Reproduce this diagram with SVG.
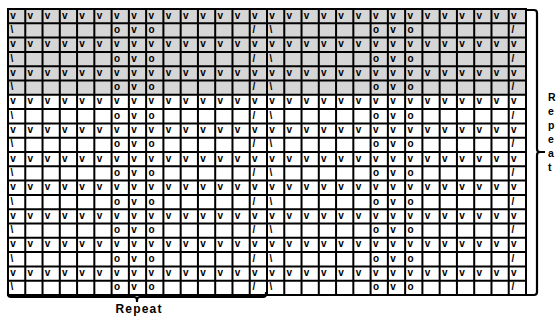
<svg xmlns="http://www.w3.org/2000/svg" xmlns:xlink="http://www.w3.org/1999/xlink" width="557" height="320" viewBox="0 0 557 320">
<style>
.sym{font-family:"Liberation Sans",Arial,sans-serif;font-weight:bold;font-size:10px;fill:#000}
.lbl{font-family:"Liberation Sans",Arial,sans-serif;font-weight:bold;font-size:12px;fill:#000}
.vlbl{font-family:"Liberation Sans",Arial,sans-serif;font-weight:bold;font-size:10.5px;fill:#000}
.grid{fill:none;stroke:#000;stroke-width:2}
.brace{fill:none;stroke:#000;stroke-width:2.2;stroke-linejoin:round}
</style>
<defs>
<text id="vrow" class="sym" x="10.3 27.57 44.83 62.1 79.37 96.63 113.9 131.17 148.43 165.7 182.97 200.23 217.5 234.77 252.03 269.3 286.57 303.83 321.1 338.37 355.63 372.9 390.17 407.43 424.7 441.97 459.23 476.5 493.77 511.03" y="0">vvvvvvvvvvvvvvvvvvvvvvvvvvvvvv</text>
<text id="orow" class="sym" x="10.6 113.9 131.17 148.43 252.5 269.6 372.9 390.17 407.43 511.5" y="0">\ovo/\ovo/</text>
</defs>
<g id="background">
<rect x="8" y="9" width="518" height="85.8" fill="#d6d6d6"/>
<rect x="8" y="94.8" width="518" height="200.2" fill="#ffffff"/>
</g>
<g id="symbols">
<use xlink:href="#vrow" y="18.6"/>
<use xlink:href="#orow" y="32.9"/>
<use xlink:href="#vrow" y="47.2"/>
<use xlink:href="#orow" y="61.5"/>
<use xlink:href="#vrow" y="75.8"/>
<use xlink:href="#orow" y="90.1"/>
<use xlink:href="#vrow" y="104.4"/>
<use xlink:href="#orow" y="118.7"/>
<use xlink:href="#vrow" y="133"/>
<use xlink:href="#orow" y="147.3"/>
<use xlink:href="#vrow" y="161.6"/>
<use xlink:href="#orow" y="175.9"/>
<use xlink:href="#vrow" y="190.2"/>
<use xlink:href="#orow" y="204.5"/>
<use xlink:href="#vrow" y="218.8"/>
<use xlink:href="#orow" y="233.1"/>
<use xlink:href="#vrow" y="247.4"/>
<use xlink:href="#orow" y="261.7"/>
<use xlink:href="#vrow" y="276"/>
<use xlink:href="#orow" y="290.3"/>
</g>
<g id="gridlines">
<path class="grid" d="M8 9V295M25.27 9V295M42.53 9V295M59.8 9V295M77.07 9V295M94.33 9V295M111.6 9V295M128.87 9V295M146.13 9V295M163.4 9V295M180.67 9V295M197.93 9V295M215.2 9V295M232.47 9V295M249.73 9V295M267 9V295M284.27 9V295M301.53 9V295M318.8 9V295M336.07 9V295M353.33 9V295M370.6 9V295M387.87 9V295M405.13 9V295M422.4 9V295M439.67 9V295M456.93 9V295M474.2 9V295M491.47 9V295M508.73 9V295M526 9V295"/>
<path class="grid" d="M7 9H527M7 23.3H527M7 37.6H527M7 51.9H527M7 66.2H527M7 80.5H527M7 94.8H527M7 109.1H527M7 123.4H527M7 137.7H527M7 152H527M7 166.3H527M7 180.6H527M7 194.9H527M7 209.2H527M7 223.5H527M7 237.8H527M7 252.1H527M7 266.4H527M7 280.7H527M7 295H527"/>
</g>
<g id="repeat-bottom">
<path class="brace" d="M8 292V294Q8 297 11 297H134Q137 297 137 300V302M137 300Q137 297 140 297H263Q266 297 266 294V292"/>
<text class="lbl" x="139" y="313" text-anchor="middle" letter-spacing="1.2">Repeat</text>
</g>
<g id="repeat-right">
<path class="brace" d="M526 10H534Q537 10 537 13V149Q537 152 540 152H545M540 152Q537 152 537 155V292Q537 295 534 295H526"/>
<text class="vlbl" x="548" y="101">R</text>
<text class="vlbl" x="548" y="115">e</text>
<text class="vlbl" x="548" y="129">p</text>
<text class="vlbl" x="548" y="143">e</text>
<text class="vlbl" x="548" y="157">a</text>
<text class="vlbl" x="548" y="171">t</text>
</g>
</svg>
